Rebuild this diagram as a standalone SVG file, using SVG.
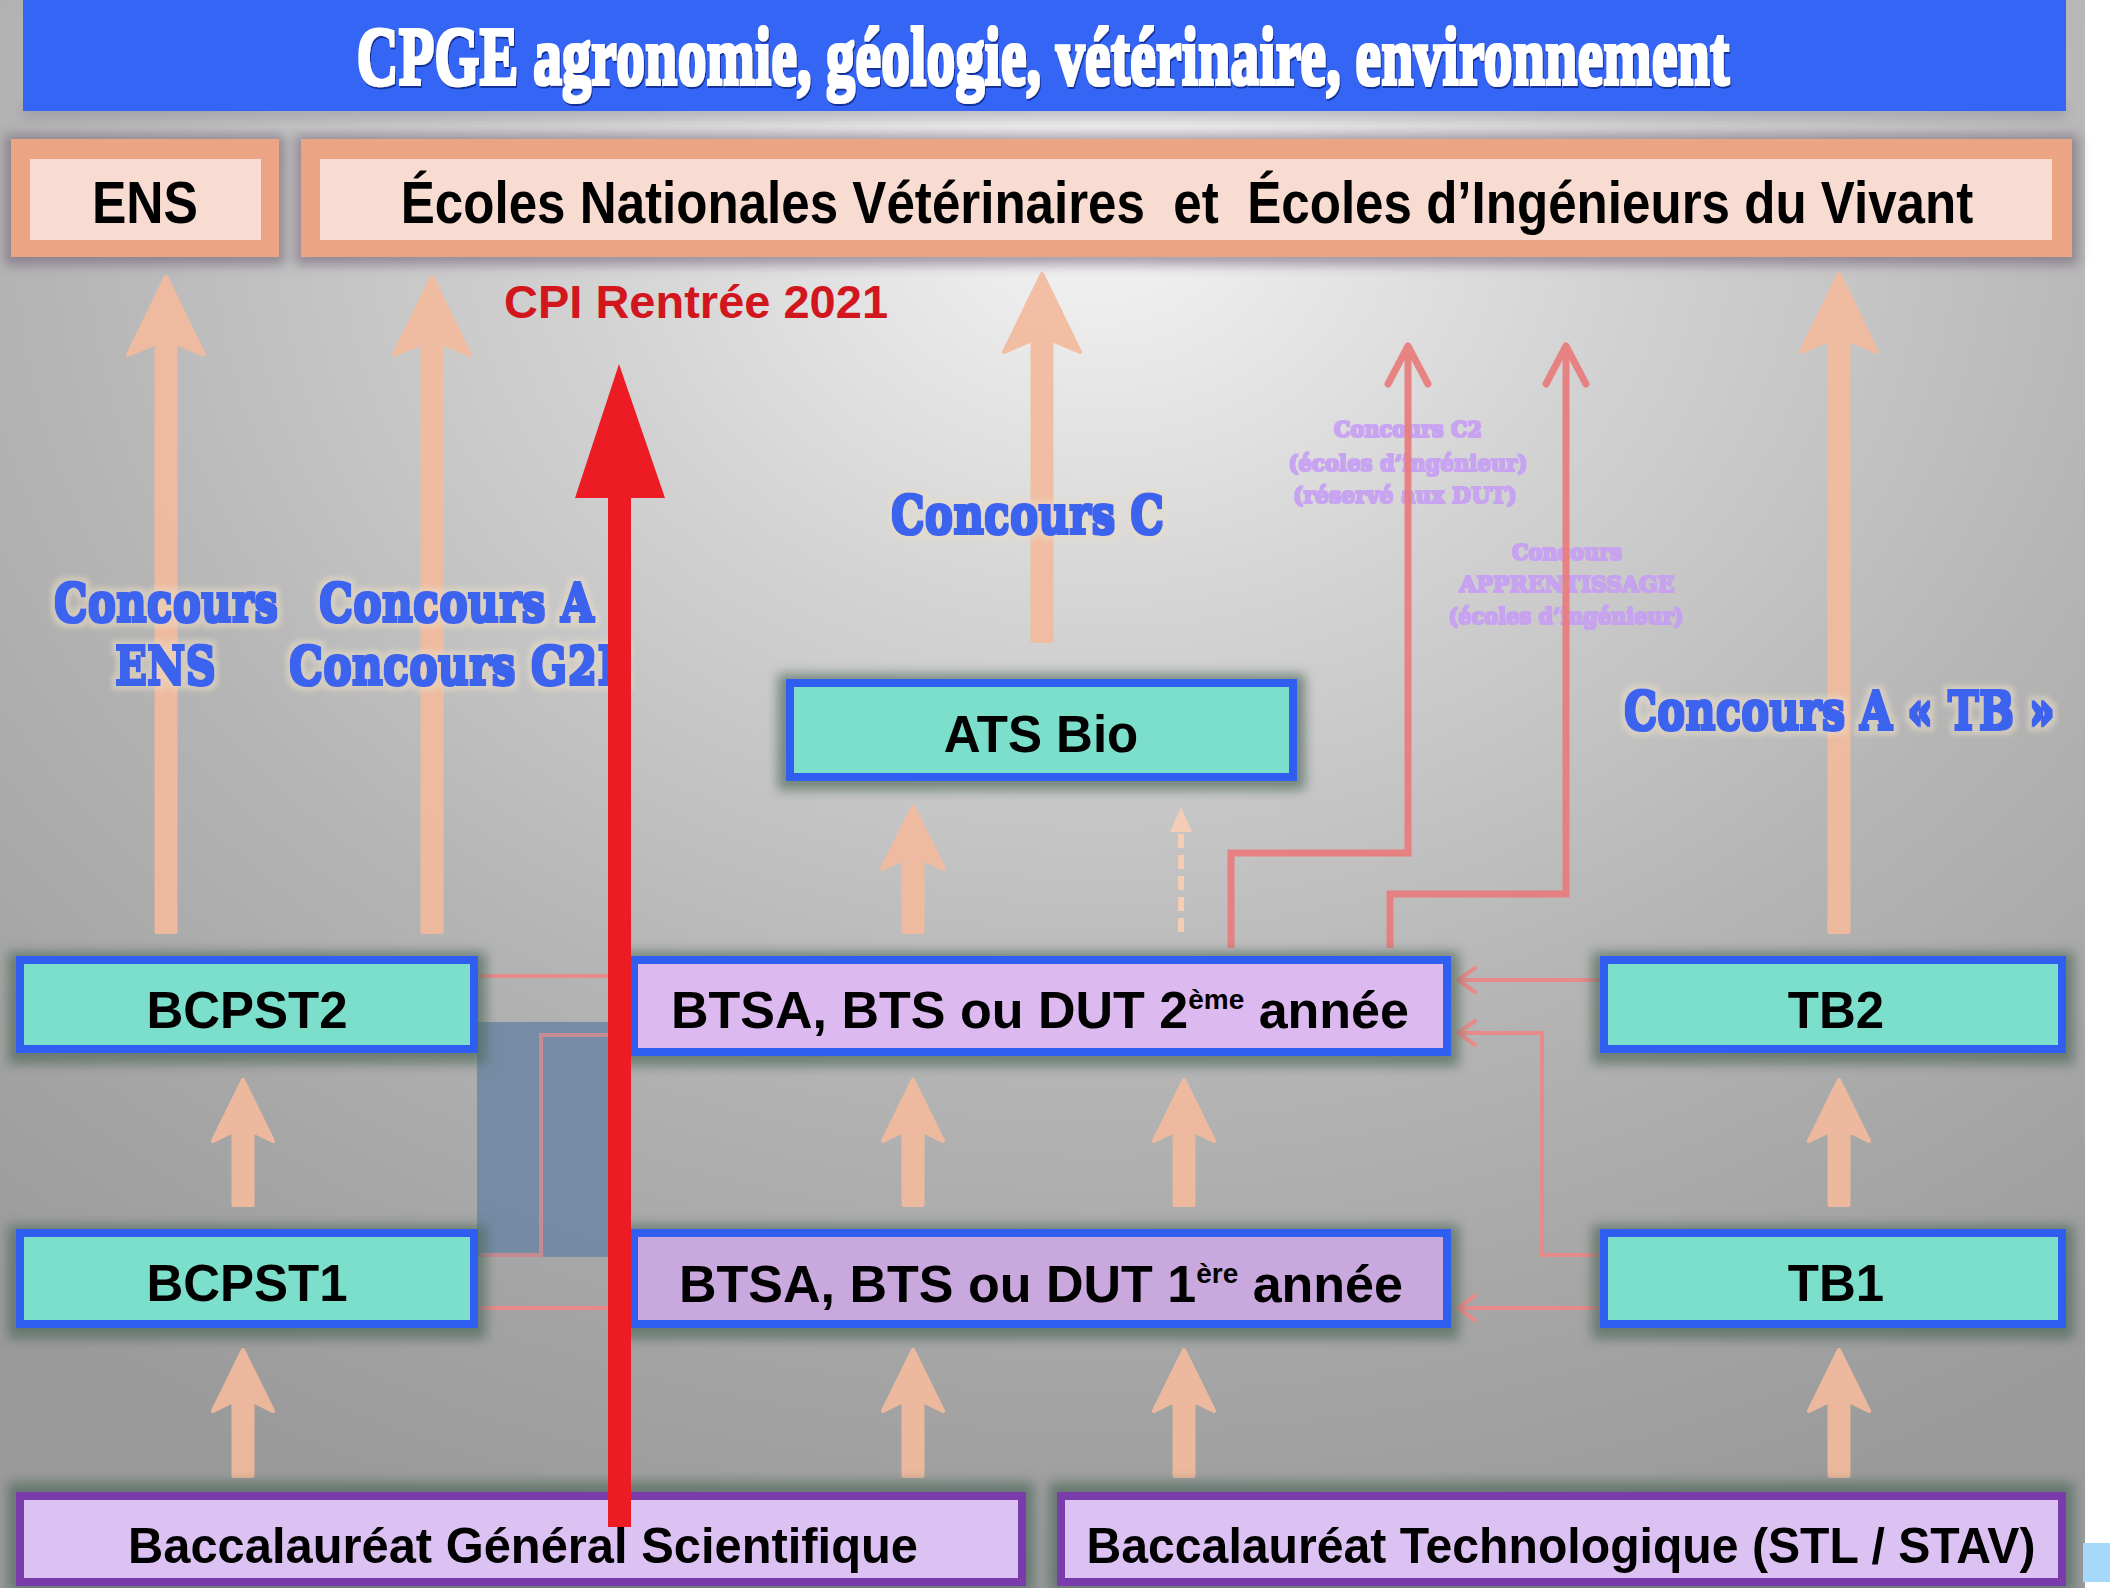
<svg xmlns="http://www.w3.org/2000/svg" width="2117" height="1588" viewBox="0 0 2117 1588">
<defs>
<radialGradient id="bg" cx="1100" cy="220" r="1400" gradientUnits="userSpaceOnUse" gradientTransform="translate(1100 220) scale(1.25 1) translate(-1100 -220)">
<stop offset="0" stop-color="#f4f4f4"/>
<stop offset="0.3" stop-color="#d2d2d2"/>
<stop offset="0.6" stop-color="#b5b5b5"/>
<stop offset="0.85" stop-color="#a3a3a3"/>
<stop offset="1" stop-color="#9a9a9a"/>
</radialGradient>
<filter id="blur" x="-20%" y="-50%" width="140%" height="200%"><feGaussianBlur stdDeviation="6"/></filter>
<filter id="titlef" x="-5%" y="-30%" width="110%" height="160%">
<feMorphology in="SourceGraphic" operator="dilate" radius="1.6" result="d"/>
<feMorphology in="SourceAlpha" operator="dilate" radius="1.6" result="a"/>
<feOffset in="a" dx="2" dy="2" result="o"/>
<feFlood flood-color="#10288a" flood-opacity="0.85"/>
<feComposite in2="o" operator="in" result="sh"/>
<feMerge><feMergeNode in="sh"/><feMergeNode in="d"/></feMerge>
</filter>
<filter id="heavy" x="-5%" y="-30%" width="110%" height="160%">
<feMorphology in="SourceGraphic" operator="dilate" radius="1.4" result="d"/>
<feMorphology in="SourceAlpha" operator="dilate" radius="4.5" result="g0"/>
<feGaussianBlur in="g0" stdDeviation="2" result="g1"/>
<feFlood flood-color="#e8dcc4" flood-opacity=".55"/>
<feComposite in2="g1" operator="in" result="glow"/>
<feMerge><feMergeNode in="glow"/><feMergeNode in="d"/></feMerge>
</filter>
<filter id="heavys" x="-5%" y="-30%" width="110%" height="160%">
<feMorphology in="SourceGraphic" operator="dilate" radius="0.8"/>
</filter>
<marker id="chevBig" viewBox="-42 -24 46 48" markerWidth="46" markerHeight="48" refX="0" refY="0" orient="auto" markerUnits="userSpaceOnUse">
<path d="M-38,-20 L0,0 L-38,20" fill="none" stroke="#e97c7c" stroke-width="7" stroke-linecap="round" stroke-linejoin="round"/>
</marker>
<marker id="chevSmall" viewBox="-20 -15 24 30" markerWidth="24" markerHeight="30" refX="0" refY="0" orient="auto" markerUnits="userSpaceOnUse">
<path d="M-17,-12 L0,0 L-17,12" fill="none" stroke="#e88a8a" stroke-width="4" stroke-linecap="round" stroke-linejoin="round"/>
</marker>
<style>
.pa{fill:#f3bb9e;stroke:#f3bb9e;stroke-width:4;stroke-linejoin:round;opacity:.92}
.halo{fill:#4f6b5c;opacity:.7;filter:url(#blur)}
.halo2{fill:#6c5a70;opacity:.55;filter:url(#blur)}
.turq{fill:#7bdfcb;stroke:#2f5ef0;stroke-width:8}
.lil2{fill:#dcb9ef;stroke:#2f5ef0;stroke-width:8}
.lil1{fill:#c9a9dd;stroke:#2f5ef0;stroke-width:8}
.bac{fill:#dcc2f2;stroke:#7a3caa;stroke-width:8}
.sal{fill:#eba484}
.salin{fill:#f8dcd2}
.nt{font-family:"Liberation Sans",Arial,sans-serif;font-weight:bold;fill:#000;text-anchor:middle}
.bl{font-family:"DejaVu Serif","Liberation Serif",serif;font-weight:bold;font-size:42px;fill:#3b63ee;filter:url(#heavy)}
.fl{font-family:"DejaVu Serif","Liberation Serif",serif;font-weight:bold;font-size:22px;fill:#c69ef4;text-anchor:middle;opacity:.9;filter:url(#heavys)}
.rc{fill:none;stroke:#e97c7c;stroke-width:7;opacity:.92}
.pc{fill:none;stroke:#e88a8a;stroke-width:4}
</style>
</defs>

<rect x="0" y="0" width="2117" height="1588" fill="#ffffff"/>
<rect x="0" y="0" width="2085" height="1588" fill="url(#bg)"/>

<g id="title">
<rect x="23" y="104" width="2043" height="14" fill="#8a8a9a" opacity=".5" filter="url(#blur)"/>
<rect x="23" y="0" width="2043" height="111" fill="#3565f5"/>
<text transform="translate(1043 84) scale(0.71 1)" x="0" y="0" text-anchor="middle" font-family="'Liberation Serif','DejaVu Serif',serif" font-weight="bold" font-size="82" fill="#ffffff" filter="url(#titlef)">CPGE agronomie, géologie, vétérinaire, environnement</text>
</g>

<g id="node-ens">
<rect class="halo2" x="5" y="135" width="280" height="130"/>
<rect class="sal" x="11" y="139" width="268" height="118"/>
<rect class="salin" x="30" y="159" width="231" height="81"/>
<text class="nt" transform="translate(145 223) scale(0.86 1)" x="0" y="0" font-size="60">ENS</text>
</g>

<g id="node-ecoles">
<rect class="halo2" x="295" y="135" width="1783" height="130"/>
<rect class="sal" x="301" y="139" width="1771" height="118"/>
<rect class="salin" x="320" y="159" width="1732" height="81"/>
<text class="nt" transform="translate(1187 223) scale(0.852 1)" x="0" y="0" font-size="60" xml:space="preserve">Écoles Nationales Vétérinaires  et  Écoles d’Ingénieurs du Vivant</text>
</g>

<g id="connectors">
<path class="pa" d="M166,277 L204,355 L175.5,343 L175.5,932 L156.5,932 L156.5,343 L128,355 Z"/>
<path class="pa" d="M432,277 L470,355 L441.5,343 L441.5,932 L422.5,932 L422.5,343 L394,355 Z"/>
<path class="pa" d="M1042,274 L1080,352 L1051.5,340 L1051.5,641 L1032.5,641 L1032.5,340 L1004,352 Z"/>
<path class="pa" d="M1839,274 L1877,352 L1848.5,340 L1848.5,932 L1829.5,932 L1829.5,340 L1801,352 Z"/>
<path class="pa" d="M913,807 L944,869 L922.5,859 L922.5,932 L903.5,932 L903.5,859 L882,869 Z"/>
<line x1="1181" y1="932" x2="1181" y2="826" stroke="#f4cdb6" stroke-width="6" stroke-dasharray="14 7"/>
<path d="M1181,807 L1192,832 L1170,832 Z" fill="#f4cdb6"/>
<path class="pa" d="M243,1080 L273,1141 L252.5,1131 L252.5,1205 L233.5,1205 L233.5,1131 L213,1141 Z"/>
<path class="pa" d="M913,1080 L943,1141 L922.5,1131 L922.5,1205 L903.5,1205 L903.5,1131 L883,1141 Z"/>
<path class="pa" d="M1184,1080 L1214,1141 L1193.5,1131 L1193.5,1205 L1174.5,1205 L1174.5,1131 L1154,1141 Z"/>
<path class="pa" d="M1839,1080 L1869,1141 L1848.5,1131 L1848.5,1205 L1829.5,1205 L1829.5,1131 L1809,1141 Z"/>
<path class="pa" d="M243,1350 L273,1411 L252.5,1401 L252.5,1476 L233.5,1476 L233.5,1401 L213,1411 Z"/>
<path class="pa" d="M913,1350 L943,1411 L922.5,1401 L922.5,1476 L903.5,1476 L903.5,1401 L883,1411 Z"/>
<path class="pa" d="M1184,1350 L1214,1411 L1193.5,1401 L1193.5,1476 L1174.5,1476 L1174.5,1401 L1154,1411 Z"/>
<path class="pa" d="M1839,1350 L1869,1411 L1848.5,1401 L1848.5,1476 L1829.5,1476 L1829.5,1401 L1809,1411 Z"/>

<text class="fl" x="1408" y="437" textLength="148" lengthAdjust="spacingAndGlyphs">Concours C2</text>
<text class="fl" x="1408" y="471" textLength="239" lengthAdjust="spacingAndGlyphs">(écoles d’ingénieur)</text>
<text class="fl" x="1405" y="503" textLength="224" lengthAdjust="spacingAndGlyphs">(réservé aux DUT)</text>
<text class="fl" x="1567" y="560" textLength="110" lengthAdjust="spacingAndGlyphs">Concours</text>
<text class="fl" x="1567" y="592" textLength="215" lengthAdjust="spacingAndGlyphs">APPRENTISSAGE</text>
<text class="fl" x="1566" y="624" textLength="235" lengthAdjust="spacingAndGlyphs">(écoles d’ingénieur)</text>

<path class="rc" d="M1231,948 V853 H1408 V346" marker-end="url(#chevBig)"/>
<path class="rc" d="M1390,948 V894 H1566 V346" marker-end="url(#chevBig)"/>

<rect x="477" y="1022" width="140" height="235" fill="#6f88a3" opacity=".9"/>
<path class="pc" d="M479,976 H630"/>
<path class="pc" d="M479,1308 H630"/>
<path class="pc" d="M479,1255 H541 V1035 H630" opacity=".7"/>
<path class="pc" d="M1600,980 H1458" marker-end="url(#chevSmall)"/>
<path class="pc" d="M1604,1255 H1542 V1033 H1458" marker-end="url(#chevSmall)"/>
<path class="pc" d="M1600,1308 H1458" marker-end="url(#chevSmall)"/>

<text class="bl" transform="translate(54 621) scale(1 1.24)" x="0" y="0" textLength="224" lengthAdjust="spacingAndGlyphs">Concours</text>
<text class="bl" transform="translate(115 684) scale(1 1.24)" x="0" y="0" textLength="101" lengthAdjust="spacingAndGlyphs">ENS</text>
<text class="bl" transform="translate(319 621) scale(1 1.24)" x="0" y="0" textLength="275" lengthAdjust="spacingAndGlyphs">Concours A</text>
<text class="bl" transform="translate(289 684) scale(1 1.24)" x="0" y="0" textLength="341" lengthAdjust="spacingAndGlyphs">Concours G2E</text>
<text class="bl" transform="translate(891 533) scale(1 1.24)" x="0" y="0" textLength="273" lengthAdjust="spacingAndGlyphs">Concours C</text>
<text class="bl" transform="translate(1624 729) scale(1 1.24)" x="0" y="0" textLength="431" lengthAdjust="spacingAndGlyphs">Concours A « TB »</text>
</g>

<g id="node-ats">
<rect class="halo" x="778" y="674" width="527" height="116"/>
<rect class="turq" x="790" y="683" width="503" height="94"/>
<text class="nt" x="1041" y="752" font-size="51">ATS Bio</text>
</g>

<g id="node-bcpst2">
<rect class="halo" x="8" y="952" width="478" height="112"/>
<rect class="turq" x="20" y="960" width="454" height="89"/>
<text class="nt" x="247" y="1028" font-size="51">BCPST2</text>
</g>

<g id="node-btsa2">
<rect class="halo" x="622" y="952" width="837" height="114"/>
<rect class="lil2" x="634" y="960" width="813" height="92"/>
<text class="nt" x="1040" y="1028" font-size="52">BTSA, BTS ou DUT 2<tspan font-size="28" dy="-19">ème</tspan><tspan dy="19"> année</tspan></text>
</g>

<g id="node-tb2">
<rect class="halo" x="1592" y="952" width="482" height="112"/>
<rect class="turq" x="1604" y="960" width="458" height="89"/>
<text class="nt" x="1836" y="1028" font-size="51">TB2</text>
</g>

<g id="node-bcpst1">
<rect class="halo" x="8" y="1225" width="478" height="114"/>
<rect class="turq" x="20" y="1233" width="454" height="91"/>
<text class="nt" x="247" y="1301" font-size="51">BCPST1</text>
</g>

<g id="node-btsa1">
<rect class="halo" x="622" y="1225" width="837" height="114"/>
<rect class="lil1" x="634" y="1233" width="813" height="91"/>
<text class="nt" x="1041" y="1302" font-size="52">BTSA, BTS ou DUT 1<tspan font-size="28" dy="-19">ère</tspan><tspan dy="19"> année</tspan></text>
</g>

<g id="node-tb1">
<rect class="halo" x="1592" y="1225" width="482" height="114"/>
<rect class="turq" x="1604" y="1233" width="458" height="91"/>
<text class="nt" x="1836" y="1301" font-size="51">TB1</text>
</g>

<g id="node-bac-general">
<rect class="halo" x="8" y="1482" width="1026" height="110"/>
<rect class="bac" x="20" y="1496" width="1002" height="86"/>
<text class="nt" x="523" y="1563" font-size="50" textLength="790" lengthAdjust="spacingAndGlyphs">Baccalauréat Général Scientifique</text>
</g>

<g id="node-bac-techno">
<rect class="halo" x="1049" y="1482" width="1025" height="110"/>
<rect class="bac" x="1061" y="1496" width="1001" height="86"/>
<text class="nt" x="1561" y="1563" font-size="50" textLength="949" lengthAdjust="spacingAndGlyphs">Baccalauréat Technologique (STL / STAV)</text>
</g>

<g id="cpi">
<text x="504" y="318" font-family="'Liberation Sans',Arial,sans-serif" font-weight="bold" font-size="47" fill="#d2161e">CPI Rentrée 2021</text>
<path d="M619,364 L665,498 L631,498 L631,1527 L608,1527 L608,498 L575,498 Z" fill="#ed1c24"/>
</g>

<rect x="2083" y="1543" width="27" height="39" fill="#a6d8fa"/>
</svg>
